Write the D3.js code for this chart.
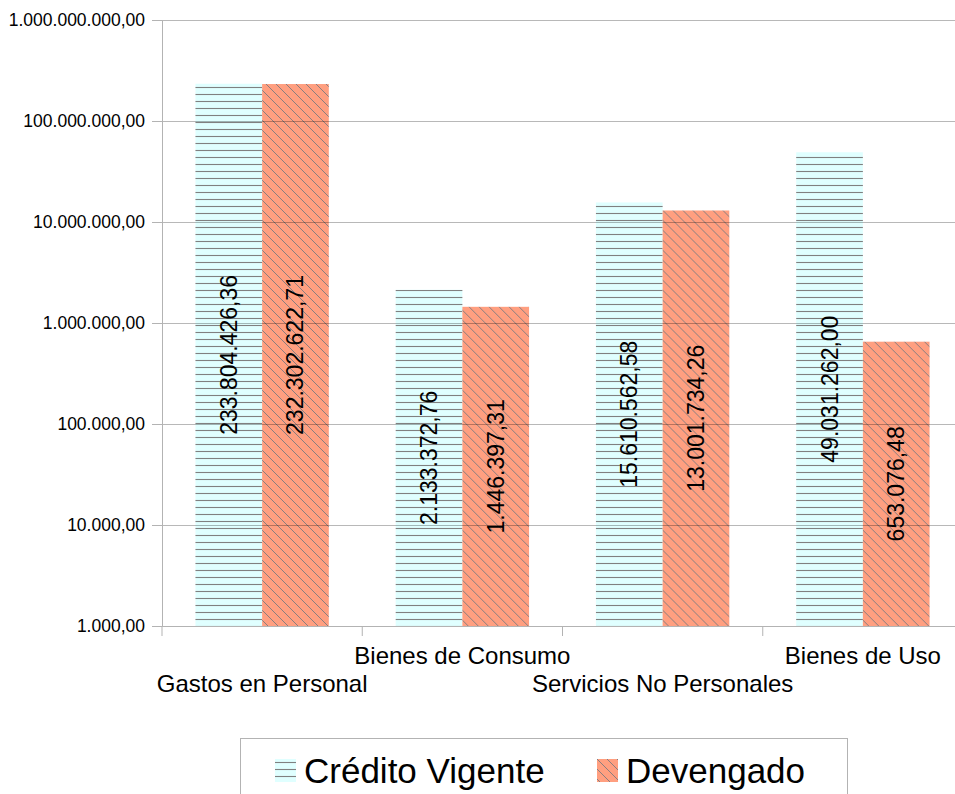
<!DOCTYPE html>
<html>
<head>
<meta charset="utf-8">
<script src="https://cdn.jsdelivr.net/npm/d3@7"></script>
<style>
  body { margin: 0; background: #fff; }
  text { font-family: "Liberation Sans", Arial, sans-serif; fill: #000; }
</style>
</head>
<body>
<div id="chart"></div>
<script>
// data
const categories = ["Gastos en Personal", "Bienes de Consumo", "Servicios No Personales", "Bienes de Uso"];
const seriesNames = ["Crédito Vigente", "Devengado"];
const creditoVigente = [233804426.36, 2133372.76, 15610562.58, 49031262.00];
const devengado = [232302622.71, 1446397.31, 13001734.26, 653076.48];
const yTicks = [1e3, 1e4, 1e5, 1e6, 1e7, 1e8, 1e9];

const W = 955, H = 794;
const plot = {left: 162, right: 963, top: 20, bottom: 626};

const es = d3.formatLocale({decimal: ",", thousands: ".", grouping: [3], currency: ["", ""]});
const fmt = es.format(",.2f");

const svg = d3.select("#chart").append("svg")
    .attr("width", W).attr("height", H);

// hatch patterns
const defs = svg.append("defs");
const pH = defs.append("pattern").attr("id", "hatchH")
    .attr("patternUnits", "userSpaceOnUse").attr("width", 8).attr("height", 7);
pH.append("rect").attr("width", 8).attr("height", 7).attr("fill", "#e0ffff");
pH.append("line").attr("x1", 0).attr("x2", 8).attr("y1", 3.5).attr("y2", 3.5)
    .attr("stroke", "#808080").attr("stroke-width", 1.1);

const pD = defs.append("pattern").attr("id", "hatchD")
    .attr("patternUnits", "userSpaceOnUse").attr("width", 10).attr("height", 10);
pD.append("rect").attr("width", 10).attr("height", 10).attr("fill", "#ff9f80");
pD.append("path").attr("d", "M0,0L10,10M-2,8L2,12M8,-2L12,2")
    .attr("stroke", "#7a7a80").attr("stroke-width", 0.9).attr("fill", "none");

const fills = {"Crédito Vigente": "url(#hatchH)", "Devengado": "url(#hatchD)"};

const rows = categories.map((c, i) => ({
    cat: c,
    values: [
        {name: seriesNames[0], value: creditoVigente[i]},
        {name: seriesNames[1], value: devengado[i]}
    ]
}));

const x0 = d3.scaleBand().domain(categories).range([plot.left, plot.right]).padding(0);
const x1 = d3.scaleBand().domain(seriesNames)
    .range([x0.bandwidth() * 0.167, x0.bandwidth() * 0.833]).padding(0);
const y = d3.scaleLog().domain([1e3, 1e9]).range([plot.bottom, plot.top]);

// bars
const groups = svg.append("g").selectAll("g")
    .data(rows).join("g")
    .attr("transform", d => `translate(${x0(d.cat)},0)`);

groups.selectAll("rect")
    .data(d => d.values).join("rect")
    .attr("x", d => x1(d.name))
    .attr("width", x1.bandwidth())
    .attr("y", d => y(d.value))
    .attr("height", d => plot.bottom - y(d.value))
    .attr("fill", d => fills[d.name]);

// gridlines (on top, slightly transparent)
svg.append("g")
    .attr("transform", `translate(${plot.left},0)`)
    .call(d3.axisLeft(y).tickValues(yTicks).tickFormat(fmt)
        .tickSize(-(plot.right - plot.left)).tickSizeOuter(0))
    .call(g => g.select(".domain").remove())
    .call(g => g.selectAll(".tick line").attr("stroke", "#000").attr("stroke-opacity", 0.28))
    .call(g => g.selectAll(".tick text").remove());

// y axis with labels
svg.append("g")
    .attr("transform", `translate(${plot.left},0)`)
    .call(d3.axisLeft(y).tickValues(yTicks).tickFormat(fmt).tickSize(10).tickSizeOuter(0).tickPadding(7))
    .call(g => g.select(".domain").attr("stroke", "#b3b3b3"))
    .call(g => g.selectAll(".tick line").attr("stroke", "#b3b3b3"))
    .call(g => g.selectAll(".tick text").attr("font-size", 17.5).attr("font-family", null));

// x axis
svg.append("g")
    .attr("transform", `translate(0,${plot.bottom})`)
    .call(d3.axisBottom(x0).tickValues([]).tickSizeOuter(0))
    .call(g => g.select(".domain").attr("stroke", "#b3b3b3"));

svg.append("g").selectAll("line")
    .data(categories.concat(["_end"]))
    .join("line")
    .attr("x1", (d, i) => plot.left + i * x0.bandwidth())
    .attr("x2", (d, i) => plot.left + i * x0.bandwidth())
    .attr("y1", plot.bottom).attr("y2", plot.bottom + 10)
    .attr("stroke", "#b3b3b3");

svg.append("g").selectAll("text")
    .data(categories).join("text")
    .attr("x", d => x0(d) + x0.bandwidth() / 2)
    .attr("y", (d, i) => i % 2 === 0 ? 692 : 664)
    .attr("text-anchor", "middle")
    .attr("font-size", 24)
    .text(d => d);

// value labels
groups.selectAll("text")
    .data(d => d.values).join("text")
    .attr("transform", d => {
        const cx = x1(d.name) + x1.bandwidth() / 2;
        const cy = (y(d.value) + plot.bottom) / 2;
        return `translate(${cx},${cy}) rotate(-90)`;
    })
    .attr("text-anchor", "middle")
    .attr("dominant-baseline", "central")
    .attr("font-size", 23)
    .text(d => fmt(d.value));

// legend
const legend = svg.append("g");
legend.append("rect")
    .attr("x", 240.5).attr("y", 738.5).attr("width", 607).attr("height", 70)
    .attr("fill", "#fff").attr("stroke", "#b3b3b3");

const legendX = [275, 597];
const items = legend.selectAll("g.item")
    .data(seriesNames).join("g")
    .attr("class", "item")
    .attr("transform", (d, i) => `translate(${legendX[i]},759)`);
items.append("rect")
    .attr("width", 21).attr("height", 23)
    .attr("fill", d => fills[d]);
items.append("text")
    .attr("x", 29).attr("y", 24)
    .attr("font-size", 35)
    .text(d => d);
</script>
</body>
</html>
